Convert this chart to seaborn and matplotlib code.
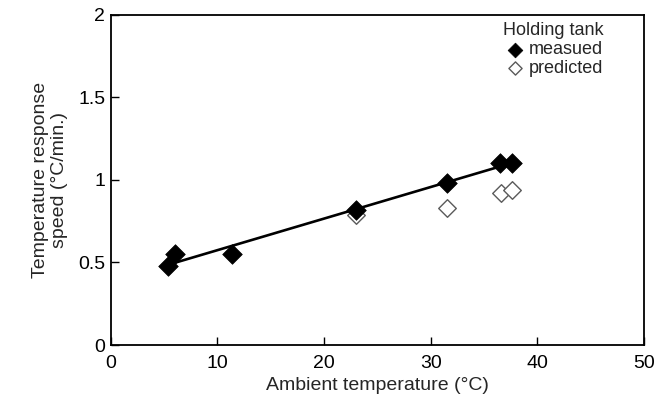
import numpy as np
import pandas as pd
import matplotlib
matplotlib.use("Agg")
import matplotlib.pyplot as plt
import seaborn as sns

# Measured and predicted response speeds of the holding tank
measured_temp = [5.4, 6.0, 11.4, 23.0, 31.5, 36.5, 37.6]
measured_speed = [0.48, 0.55, 0.55, 0.82, 0.98, 1.10, 1.10]
predicted_temp = [23.0, 31.5, 36.6, 37.6]
predicted_speed = [0.79, 0.83, 0.92, 0.94]

x_ticks = [0, 10, 20, 30, 40, 50]
y_ticks = [0, 0.5, 1, 1.5, 2]
y_tick_labels = ["0", "0.5", "1", "1.5", "2"]

sns.set_style("ticks")
plt.rcParams["font.family"] = ["Liberation Sans", "DejaVu Sans"]

measured = pd.DataFrame({"temp": measured_temp, "speed": measured_speed})
predicted = pd.DataFrame({"temp": predicted_temp, "speed": predicted_speed})

fig = plt.figure(figsize=(6.72, 4.04), dpi=100)
ax = fig.add_axes([0.165, 0.146, 0.793, 0.817])

# Least-squares line through the measured values
sns.regplot(data=measured, x="temp", y="speed", ax=ax, ci=None, scatter=False,
            truncate=True, color="black", line_kws={"linewidth": 1.9, "zorder": 2})

sns.scatterplot(data=predicted, x="temp", y="speed", ax=ax, marker="D", s=80,
                facecolor="white", edgecolor="#5a5a5a", linewidth=1.0,
                label="predicted", zorder=3)
sns.scatterplot(data=measured, x="temp", y="speed", ax=ax, marker="D", s=100,
                color="black", edgecolor="black", linewidth=0.5,
                label="measued", zorder=4)

ax.set_xlim(0, 50)
ax.set_ylim(0, 2)
ax.set_xticks(x_ticks)
ax.set_yticks(y_ticks)
ax.set_yticklabels(y_tick_labels)
ax.tick_params(direction="in", length=6, width=1, labelsize=14, pad=4, colors="black")
ax.tick_params(axis="x", pad=7)
for side in ["top", "right", "left", "bottom"]:
    ax.spines[side].set_visible(True)
    ax.spines[side].set_linewidth(1.3)
    ax.spines[side].set_color("black")

ax.set_xlabel("Ambient temperature (°C)", fontsize=14, labelpad=4)
ax.set_ylabel("Temperature response\nspeed (°C/min.)", fontsize=14, labelpad=7)

handles, labels = ax.get_legend_handles_labels()
order = [labels.index("measued"), labels.index("predicted")]
leg = ax.legend([handles[i] for i in order], [labels[i] for i in order],
                title="Holding tank", loc="upper right", bbox_to_anchor=(0.945, 1.01),
                frameon=False, fontsize=13, title_fontsize=13,
                handletextpad=0.3, borderaxespad=0.2, labelspacing=0.1,
                handlelength=1.0, markerscale=0.75)
leg._legend_box.align = "right"

fig.savefig("out.png", dpi=100, facecolor="white")
